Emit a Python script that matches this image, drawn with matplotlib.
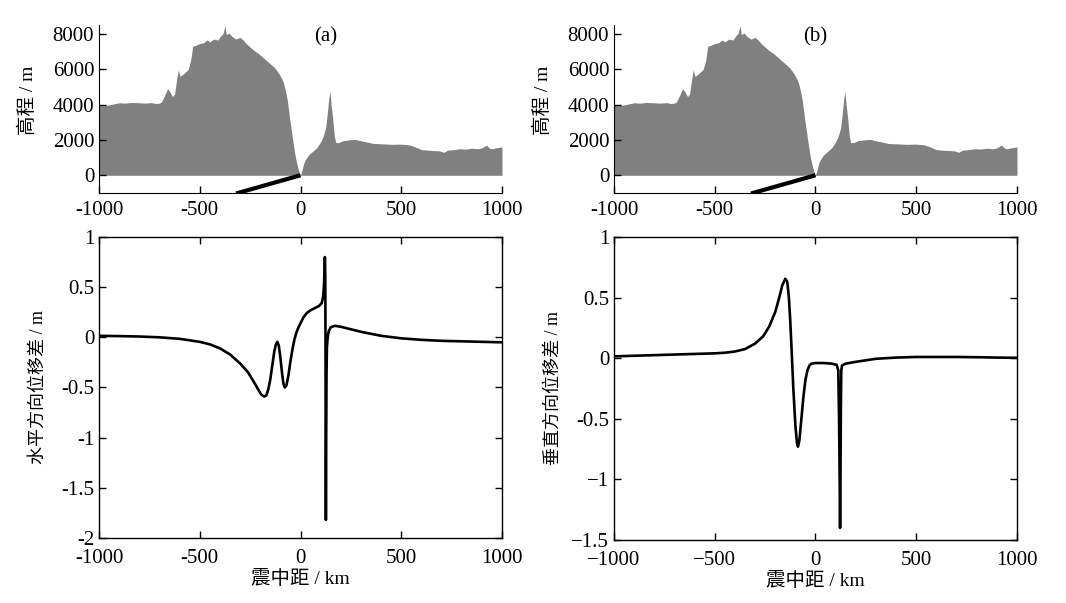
import matplotlib
matplotlib.use("Agg")
import matplotlib.pyplot as plt
import numpy as np

plt.rcParams['font.family'] = ['Liberation Serif', 'Noto Sans CJK SC']
plt.rcParams['axes.unicode_minus'] = False
plt.rcParams['font.size'] = 14

# ---- topography profile (km, m) ----
topo_x = [-1000, -980, -950, -920, -900, -870, -840, -800, -770, -740, -720, -700,
          -690, -675, -660, -650, -635, -625, -615, -607, -598, -585, -570, -557,
          -545, -535, -520, -500, -480, -465, -450, -430, -410, -395, -385, -375,
          -368, -355, -340, -320, -300, -285, -270, -250, -230, -210, -190, -170,
          -150, -130, -110, -95, -85, -75, -65, -55, -45, -35, -25, -15, -5, 0,
          8, 15, 25, 40, 60, 80, 95, 105, 115, 125, 133, 140, 146, 152, 160, 168,
          175, 190, 210, 240, 270, 300, 330, 360, 400, 450, 500, 540, 570, 600,
          630, 660, 690, 710, 730, 760, 790, 820, 850, 880, 900, 915, 925, 935,
          950, 970, 1000]
topo_h = [3950, 3930, 3980, 4050, 4100, 4080, 4120, 4100, 4080, 4110, 4060, 4080,
          4150, 4500, 4900, 4750, 4450, 4600, 5400, 5950, 5600, 5700, 5850, 6000,
          6500, 7300, 7350, 7450, 7500, 7650, 7550, 7700, 7650, 7900, 8000, 8450,
          7950, 8050, 7850, 7700, 7800, 7650, 7450, 7250, 7050, 6900, 6700, 6500,
          6300, 6100, 5800, 5500, 5250, 4800, 4200, 3300, 2500, 1700, 1000, 500, 100, 0,
          300, 650, 900, 1150, 1350, 1550, 1800, 2000, 2300, 2700, 3500, 4300, 4750, 4000, 3200, 2200,
          1850, 1850, 1950, 2000, 2030, 1950, 1880, 1800, 1780, 1750, 1760, 1720, 1600, 1450,
          1420, 1400, 1380, 1300, 1420, 1450, 1500, 1480, 1530, 1500, 1550, 1650, 1700, 1550,
          1500, 1550, 1600]

# fault trace below the surface
fault_x = [0, -320]
fault_h = [0, -1030]

# ---- horizontal displacement difference (m) ----
hor_x = [-1000, -900, -800, -700, -600, -500, -450, -400, -350, -300, -260, -230,
         -210, -195, -180, -170, -160, -150, -140, -130, -122, -115, -108, -100,
         -92, -85, -78, -70, -60, -50, -40, -30, -20, -10, 0, 15, 30, 50, 70, 90,
         105, 112, 116, 119, 121, 123, 124, 125, 126, 127, 129, 131, 135, 140, 150,
         170, 200, 250, 300, 350, 400, 500, 600, 700, 800, 900, 1000]
hor_v = [0.015, 0.012, 0.008, 0.0, -0.015, -0.045, -0.07, -0.11, -0.17, -0.26, -0.35, -0.45,
         -0.52, -0.57, -0.59, -0.58, -0.52, -0.42, -0.28, -0.14, -0.07, -0.045, -0.08, -0.2,
         -0.35, -0.46, -0.5, -0.48, -0.38, -0.24, -0.12, -0.02, 0.05, 0.1, 0.14, 0.2, 0.24, 0.27, 0.29, 0.31,
         0.34, 0.4, 0.5, 0.65, 0.8, 0.6, 0.0, -1.0, -1.82, -1.2, -0.4, -0.1, 0.0, 0.06, 0.1,
         0.115, 0.105, 0.08, 0.055, 0.035, 0.015, -0.01, -0.025, -0.035, -0.04, -0.045, -0.05]

# ---- vertical displacement difference (m) ----
ver_x = [-1000, -900, -800, -700, -600, -500, -450, -400, -350, -300, -260, -230,
         -200, -180, -165, -150, -140, -132, -125, -118, -110, -100, -92, -87, -80,
         -70, -60, -50, -40, -30, -20, 0, 40, 80, 105, 113, 117, 120, 122, 124, 126,
         128, 132, 150, 200, 300, 400, 500, 600, 700, 800, 900, 1000]
ver_v = [0.015, 0.02, 0.025, 0.03, 0.035, 0.04, 0.045, 0.055, 0.075, 0.12, 0.18, 0.26,
         0.38, 0.5, 0.6, 0.655, 0.63, 0.5, 0.3, 0.05, -0.25, -0.55, -0.7, -0.73, -0.68,
         -0.5, -0.32, -0.18, -0.1, -0.06, -0.045, -0.04, -0.04, -0.045, -0.055, -0.1, -0.5, -1.0, -1.4, -1.0, -0.4,
         -0.1, -0.06, -0.045, -0.03, -0.005, 0.005, 0.01, 0.01, 0.01, 0.008, 0.005, 0.003]

xticks = [-1000, -500, 0, 500, 1000]

fig = plt.figure(figsize=(10.66, 6.03), dpi=100)

top_pos = [[0.0929, 0.680, 0.378, 0.2786], [0.576, 0.680, 0.378, 0.2786]]
bot_pos = [[0.0929, 0.1078, 0.378, 0.4992], [0.576, 0.1045, 0.378, 0.5025]]
panel = ['(a)', '(b)']
panel_x = [0.563, 0.50]

for i in range(2):
    # topography panel
    ax = fig.add_axes(top_pos[i])
    ax.fill_between(topo_x, 0, topo_h, color='#808080', linewidth=0)
    ax.plot(fault_x, fault_h, color='black', linewidth=3, solid_capstyle='butt')
    ax.set_xlim(-1000, 1000)
    ax.set_ylim(-1000, 8500)
    ax.set_xticks(xticks)
    ax.set_yticks([0, 2000, 4000, 6000, 8000])
    ax.spines['top'].set_visible(False)
    ax.spines['right'].set_visible(False)
    ax.tick_params(direction='in', length=5, width=1, labelsize=15)
    ax.tick_params(axis='x', pad=6)
    ax.set_ylabel('高程 / m', fontsize=14)
    ax.yaxis.set_label_coords(-0.155, 0.55)
    ax.text(panel_x[i], 0.93, panel[i], transform=ax.transAxes, ha='center', va='center', fontsize=15)

    # displacement panel
    ax2 = fig.add_axes(bot_pos[i])
    ax2.set_xlim(-1000, 1000)
    ax2.set_xticks(xticks)
    ax2.tick_params(direction='in', length=5, width=1, top=True, right=True, labelsize=15)
    ax2.tick_params(axis='x', pad=8)
    if i == 0:
        ax2.plot(hor_x, hor_v, color='black', linewidth=1.9)
        ax2.set_ylim(-2, 1)
        ax2.set_yticks([-2, -1.5, -1, -0.5, 0, 0.5, 1])
        ax2.set_yticklabels(['-2', '-1.5', '-1', '-0.5', '0', '0.5', '1'])
        ax2.set_ylabel('水平方向位移差 / m', fontsize=13)
        ax2.yaxis.set_label_coords(-0.13, 0.5)
    else:
        ax2.plot(ver_x, ver_v, color='black', linewidth=1.9)
        ax2.set_ylim(-1.5, 1)
        ax2.set_yticks([-1.5, -1, -0.5, 0, 0.5, 1])
        ax2.set_yticklabels(['\u22121.5', '\u22121', '-0.5', '0', '0.5', '1'])
        ax2.set_xticklabels(['\u22121000', '\u2212500', '0', '500', '1000'])
        ax2.set_ylabel('垂直方向位移差 / m', fontsize=13)
        ax2.yaxis.set_label_coords(-0.13, 0.5)
    for s in ax2.spines.values():
        s.set_linewidth(1)
    ax2.set_xlabel('震中距 / km', fontsize=14)
    ax2.xaxis.set_label_coords(0.5, -0.105)

fig.savefig('out.png', dpi=100)
